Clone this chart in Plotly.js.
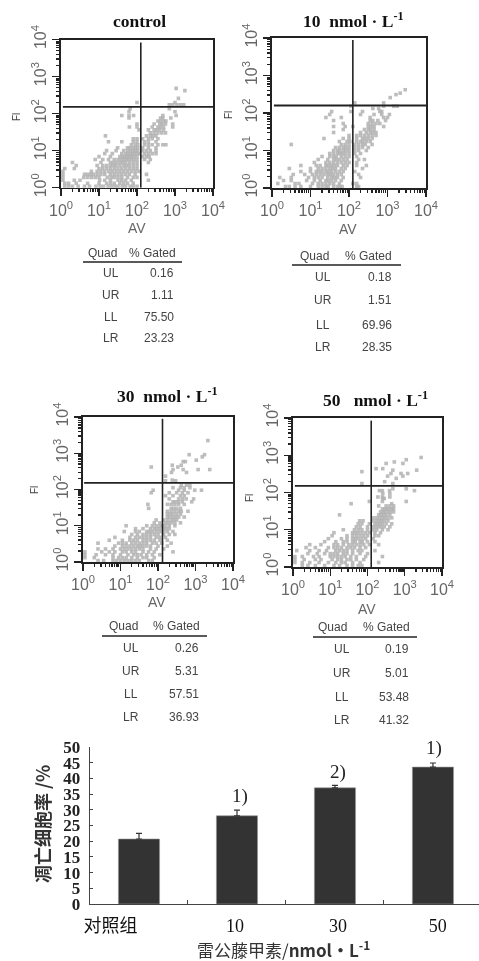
<!DOCTYPE html>
<html><head><meta charset="utf-8">
<script src="https://cdn.plot.ly/plotly-3.0.1.min.js"></script>
<style>html,body{margin:0;padding:0;background:#fff}#chart{width:479px;height:961px;filter:blur(0.4px)}</style>
</head><body><div id="chart"></div>
<script>
// Flow cytometry events, in decades. Each row: [Fl decade, AV decade, AV decade, ...]
const controlRows = [
[0.04,0.1,0.2,0.3,0.45,0.62,0.75,0.92,1.03,1.12,1.24,1.33,1.42,1.5,1.61,1.7,1.82,1.9,2.0],
[0.12,0.1,0.2,0.4,0.7,1.0,1.2,1.3,1.4,1.55,1.65,1.75,1.9],
[0.2,0.05,0.35,0.5,1.02,1.15,1.3,1.5,1.6,1.7,1.85,2.3],
[0.28,0.05,0.6,0.7,0.8,0.9,1.0,1.22,1.32,1.4,1.5,1.6,1.75,1.9,2.0],
[0.36,0.05,0.62,0.7,0.78,0.85,0.95,1.05,1.15,1.3,1.4,1.5,1.6,1.7,1.8,1.95,2.25],
[0.44,0.05,0.8,0.95,1.05,1.15,1.26,1.35,1.45,1.55,1.65,1.75,1.85,1.95,2.05],
[0.52,0.1,0.35,1.0,1.1,1.2,1.3,1.4,1.5,1.6,1.7,1.8,1.9,2.0],
[0.6,0.4,0.95,1.1,1.2,1.3,1.38,1.45,1.55,1.65,1.72,1.8,1.9,2.0],
[0.68,0.3,1.05,1.3,1.38,1.46,1.55,1.62,1.7,1.8,1.9,2.0,2.3],
[0.76,0.9,1.1,1.25,1.4,1.5,1.58,1.65,1.72,1.78,1.85,1.92,2.0,2.2,2.35],
[0.84,1.0,1.3,1.55,1.62,1.68,1.74,1.8,1.86,1.92,2.0,2.15,2.25,2.32],
[0.92,1.15,1.35,1.6,1.7,1.76,1.82,1.88,1.94,2.0,2.06,2.2,2.3,2.4,2.5],
[1.0,1.2,1.45,1.65,1.75,1.83,1.9,1.96,2.02,2.15,2.25,2.35,2.5],
[1.08,1.49,1.75,1.82,1.9,1.96,2.02,2.15,2.3,2.5],
[1.16,1.85,1.95,2.02,2.2,2.3,2.4,2.55,2.68,2.76],
[1.24,1.25,1.6,1.9,2.0,2.2,2.3,2.5],
[1.32,1.9,2.0,2.15,2.3,2.4,2.55],
[1.4,1.17,2.25,2.35,2.42,2.5],
[1.48,2.35,2.45,2.55,2.65,2.75],
[1.56,2.05,2.3,2.45,2.52,2.6,2.7],
[1.64,1.8,2.0,2.4,2.55,2.62,2.7,2.94],
[1.72,2.0,2.45,2.6,2.66,2.75,2.94],
[1.8,2.55,2.62,2.7,2.76],
[1.88,1.79,2.62,2.68,2.89],
[1.95,1.6,1.79,1.91,2.68,3.03],
[2.05,1.79,3.0],
[2.13,1.82,2.85],
[2.24,2.85,2.94,3.05,3.14,3.23],
[2.3,2.0,3.0],
[2.41,3.09],
[2.62,3.26],
[2.68,3.03]];
const tenNmolRows = [
[0.04,0.35,0.45,0.6,0.75,1.0,1.2,1.3,1.4,1.46,1.6,1.7,1.76,1.82,2.2,2.25],
[0.12,0.15,0.6,0.7,1.05,1.2,1.3,1.4,1.5,1.6,1.75,2.1,2.2],
[0.2,0.3,0.5,0.9,1.1,1.25,1.4,1.46,1.55,1.65,1.8],
[0.28,0.2,0.5,0.95,1.1,1.2,1.3,1.45,1.55,1.62,1.7,1.85,2.3],
[0.36,0.55,0.85,1.05,1.15,1.25,1.35,1.45,1.52,1.6,1.7,1.8,2.25],
[0.44,0.75,1.0,1.15,1.22,1.3,1.4,1.47,1.55,1.65,1.75,1.85,2.15],
[0.52,0.45,1.0,1.2,1.3,1.4,1.5,1.57,1.65,1.8,1.9,2.35],
[0.6,0.75,1.15,1.25,1.4,1.47,1.55,1.62,1.7,1.85,1.95,2.2,2.45],
[0.68,1.1,1.4,1.5,1.6,1.7,1.8,1.9,2.0,2.2],
[0.76,1.2,1.45,1.6,1.67,1.75,1.85,1.95,2.25,2.4],
[0.84,1.3,1.5,1.6,1.67,1.8,1.9,2.0,2.2],
[0.92,1.5,1.6,1.7,1.76,1.82,1.9,2.0,2.15,2.3],
[1.0,1.6,1.7,1.76,1.85,1.92,2.0,2.15,2.25,2.45],
[1.08,1.65,1.75,1.85,1.92,2.0,2.15,2.25,2.35,2.5],
[1.16,0.5,1.8,1.9,2.0,2.15,2.25,2.35,2.42,2.6],
[1.24,1.75,1.95,2.02,2.2,2.3,2.36,2.45,2.55],
[1.32,1.35,1.85,2.0,2.2,2.35,2.42,2.5,2.6],
[1.4,2.0,2.2,2.3,2.4,2.5,2.6,2.7],
[1.48,1.6,2.3,2.45,2.55,2.62,2.7],
[1.56,1.85,2.4,2.5,2.56,2.65],
[1.64,1.6,1.9,2.1,2.5,2.57,2.65,2.9],
[1.72,1.85,2.5,2.6,2.7,2.8],
[1.8,1.6,2.55,2.62,2.75,2.95],
[1.88,1.4,1.8,2.55,2.9,3.0],
[1.96,1.5,2.3,2.65,2.85,3.05],
[2.04,1.55,2.05,2.35,2.8,2.85],
[2.12,2.77,2.62],
[2.18,2.05,2.9,3.16,3.25],
[2.27,2.15,2.9],
[2.41,3.07],
[2.49,3.22],
[2.53,3.33],
[2.62,3.46]];
const thirtyNmolRows = [
[0.04,0.4,0.55,0.8,0.9,1.0,1.1,1.2,1.3,1.4,1.5,1.75,1.85],
[0.12,0.05,0.3,0.8,0.95,1.05,1.15,1.3,1.45,1.6,1.7,1.9],
[0.2,0.05,0.35,0.6,0.8,1.0,1.2,1.35,1.45,1.55,1.7,1.85,2.05],
[0.28,0.05,0.5,0.7,0.85,1.05,1.15,1.3,1.4,1.6,1.75,1.9,2.4],
[0.36,0.4,0.6,0.8,1.0,1.1,1.2,1.3,1.4,1.5,1.6,1.8,1.95,2.15],
[0.44,0.85,1.05,1.15,1.25,1.35,1.45,1.52,1.6,1.7,1.8,2.0,2.25],
[0.52,0.4,0.95,1.05,1.15,1.3,1.4,1.5,1.6,1.7,1.85,1.95,2.1,2.35],
[0.6,0.7,1.05,1.25,1.35,1.45,1.6,1.7,1.8,1.9,2.05,2.25],
[0.68,0.85,1.25,1.4,1.5,1.6,1.7,1.8,1.95,2.05,2.2],
[0.76,1.3,1.45,1.6,1.7,1.8,1.9,2.0,2.15,2.3,2.45],
[0.84,1.1,1.4,1.5,1.7,1.77,1.85,1.95,2.05,2.15,2.25,2.4],
[0.92,1.4,1.6,1.8,1.9,1.97,2.05,2.15,2.22,2.3],
[1.0,1.15,1.7,1.85,1.95,2.05,2.12,2.2,2.3,2.45],
[1.08,1.9,2.05,2.2,2.27,2.35,2.45,2.6],
[1.16,1.95,2.15,2.25,2.35,2.42,2.5],
[1.24,2.25,2.32,2.4,2.47,2.55,2.7],
[1.32,2.25,2.32,2.4,2.5,2.6],
[1.4,2.25,2.35,2.45,2.55,2.62,2.8],
[1.48,1.75,2.35,2.42,2.5,2.6],
[1.59,1.73,2.25,2.35,2.45,2.55,2.7],
[1.66,2.4,2.47,2.55,2.65,2.9],
[1.74,2.3,2.55,2.65,2.75,2.95],
[1.83,2.2,2.4,2.6,2.7],
[1.91,1.82,2.3,2.5,2.65,2.8],
[1.98,1.87,2.55,2.7,2.98,3.16],
[2.05,2.4,2.6,2.7,2.85],
[2.12,2.62,2.76,2.85],
[2.24,2.47,2.2],
[2.26,2.38],
[2.37,2.2],
[2.47,2.36,2.76],
[2.55,2.4,2.67,3.07,3.38],
[2.62,1.82,2.53],
[2.67,2.38,2.62],
[2.77,2.67,2.73],
[2.81,3.02],
[2.9,3.18],
[2.96,2.83,3.24],
[3.35,3.33]];
const fiftyNmolRows = [
[0.04,0.25,0.4,0.6,0.85,1.1,1.25,1.45,1.6,1.75,1.85],
[0.12,0.05,0.25,0.45,0.7,0.95,1.15,1.3,1.4,1.6,1.8,2.3],
[0.2,0.05,0.3,0.6,0.75,1.05,1.2,1.3,1.45,1.55,1.7,1.9],
[0.28,0.05,0.25,0.55,0.7,1.0,1.1,1.2,1.3,1.4,1.55,1.7,1.95,2.4],
[0.36,0.4,0.65,0.85,1.0,1.1,1.2,1.35,1.45,1.6,1.8,2.0],
[0.44,0.1,0.45,0.7,0.9,1.15,1.25,1.35,1.45,1.6,1.75,1.85,2.2],
[0.52,0.35,0.6,0.95,1.1,1.2,1.3,1.45,1.55,1.65,1.8,1.95],
[0.6,0.45,0.75,1.1,1.2,1.35,1.5,1.6,1.7,1.8,1.9,2.05,2.3],
[0.68,0.85,1.15,1.35,1.45,1.6,1.67,1.8,1.86,2.0,2.2],
[0.76,0.95,1.3,1.45,1.6,1.67,1.75,1.85,1.95,2.15],
[0.84,1.05,1.45,1.6,1.7,1.8,1.9,2.0,2.2,2.3],
[0.92,1.1,1.6,1.67,1.75,1.85,1.95,2.05,2.2,2.35],
[1.0,1.35,1.65,1.75,1.85,2.0,2.15,2.25,2.4,2.55],
[1.08,1.7,1.8,2.0,2.15,2.22,2.3,2.37,2.45,2.6],
[1.16,1.75,1.85,2.05,2.2,2.27,2.33,2.4,2.5,2.65],
[1.24,1.79,1.88,2.15,2.25,2.32,2.38,2.45,2.55],
[1.32,2.15,2.25,2.32,2.4,2.47,2.55,2.65],
[1.4,1.25,2.3,2.37,2.43,2.5,2.6],
[1.48,2.35,2.42,2.47,2.55,2.62,2.7],
[1.56,2.4,2.47,2.52,2.58,2.65,2.7],
[1.64,2.3,2.5,2.6,2.7],
[1.7,1.56,2.65],
[1.76,2.05,2.4,3.04],
[1.84,2.41,2.45],
[1.88,2.28,2.4,2.6],
[1.97,2.41,2.6],
[2.05,2.32,2.4,2.59,3.26],
[2.1,2.68,3.04],
[2.24,1.85,2.68],
[2.29,2.46],
[2.38,2.77],
[2.44,2.54,2.95],
[2.51,2.63,2.9,3.08],
[2.56,1.85],
[2.6,2.68,3.32],
[2.64,2.23,2.41],
[2.78,2.5,2.95],
[2.82,2.72],
[2.88,3.04],
[2.94,3.44]];

const panelTitles = ['control','10&#160;&#160;nmol&#160;·&#160;L<sup>-1</sup>','30&#160;&#160;nmol&#160;·&#160;L<sup>-1</sup>','50&#160;&#160;&#160;nmol&#160;·&#160;L<sup>-1</sup>'];
const quadNames = ['UL','UR','LL','LR'];
const controlGated = ['0.16','1.11','75.50','23.23'];
const tenGated = ['0.18','1.51','69.96','28.35'];
const thirtyGated = ['0.26','5.31','57.51','36.93'];
const fiftyGated = ['0.19','5.01','53.48','41.32'];
const decadeTicks = [1,10,100,1000,10000];
const decadeLabels = ['10<sup>0</sup>','10<sup>1</sup>','10<sup>2</sup>','10<sup>3</sup>','10<sup>4</sup>'];
const minorTicks = [2,3,4,5,6,7,8,9,20,30,40,50,60,70,80,90,200,300,400,500,600,700,800,900,2000,3000,4000,5000,6000,7000,8000,9000];

const groups = ['对照组','10','30','50'];
const apoptosisRate = [20.7,28.1,37.0,43.6];
const apoptosisError = [1.8,1.8,0.8,1.3];
const significance = ['','1)','2)','1)'];
const rateTicks = [0,5,10,15,20,25,30,35,40,45,50];

const W=479,H=961;
const px=v=>v/W, py=v=>1-v/H;
const panels=[
 {rows:controlRows,gated:controlGated,box:[61,213,39.5,187.7],qx:[2.1,0.05,3.92,2.18],
  titleAt:[139,21],flAt:[16,117],avAt:[137,228],
  table:{hy:253,qc:102,gc:152,ly:262,lx:[83,182],rx:111,ry:[273,295,317,338],vr:175}},
 {rows:tenNmolRows,gated:tenGated,box:[272,426,38,188],qx:[2.1,0.05,3.95,2.2],
  titleAt:[353,20],flAt:[228,115],avAt:[348,229],
  table:{hy:256,qc:314,gc:368,ly:265,lx:[292,401],rx:323,ry:[277,300,325,347],vr:393}},
 {rows:thirtyNmolRows,gated:thirtyGated,box:[83,233,417,562],qx:[2.12,0.03,3.95,2.18],
  titleAt:[167,395],flAt:[34,490],avAt:[157,602],
  table:{hy:626,qc:123,gc:176,ly:636,lx:[102,207],rx:131,ry:[648,671,694,717],vr:200}},
 {rows:fiftyNmolRows,gated:fiftyGated,box:[293,442,418,567],qx:[2.1,0.05,3.93,2.18],
  titleAt:[375,399],flAt:[250,498],avAt:[367,609],
  table:{hy:627,qc:332,gc:386,ly:637,lx:[313,417],rx:342,ry:[649,673,697,720],vr:410}}
];

const traces=[],annotations=[],shapes=[];
const layout={width:W,height:H,margin:{l:0,r:0,t:0,b:0},paper_bgcolor:'#fff',plot_bgcolor:'#fff',showlegend:false,bargap:0};
const sans='Liberation Sans, Arial, sans-serif',serif='Liberation Serif, Times New Roman, serif';
const textAt=(x,y,text,font,extra)=>annotations.push(Object.assign({xref:'paper',yref:'paper',x:px(x),y:py(y),text,showarrow:false,font,xanchor:'center',yanchor:'middle',borderpad:0},extra||{}));

panels.forEach((p,i)=>{
  const n=i+1, ax=n===1?'':n, xk='xaxis'+ax, yk='yaxis'+ax;
  const xs=[],ys=[];
  p.rows.forEach(r=>r.slice(1).forEach(d=>{xs.push(Math.pow(10,d));ys.push(Math.pow(10,r[0]));}));
  traces.push({type:'scatter',mode:'markers',x:xs,y:ys,xaxis:'x'+ax,yaxis:'y'+ax,
    marker:{symbol:'square',size:3.6,color:'#b2b2b2',opacity:0.85,line:{width:0}},cliponaxis:true,hoverinfo:'skip'});
  const [qv,qs,qt,qh]=p.qx;
  traces.push({type:'scatter',mode:'lines',x:[Math.pow(10,qv),Math.pow(10,qv)],y:[1,Math.pow(10,qt)],xaxis:'x'+ax,yaxis:'y'+ax,line:{color:'#222',width:1.6},hoverinfo:'skip'});
  traces.push({type:'scatter',mode:'lines',x:[Math.pow(10,qs),10000],y:[Math.pow(10,qh),Math.pow(10,qh)],xaxis:'x'+ax,yaxis:'y'+ax,line:{color:'#222',width:1.8},hoverinfo:'skip'});
  const common={type:'log',range:[0,4],tickmode:'array',tickvals:decadeTicks,ticktext:decadeLabels,ticks:'outside',ticklen:7,tickwidth:1.2,tickcolor:'#222',
    showgrid:false,zeroline:false,showline:true,mirror:true,linecolor:'#222',linewidth:1.6,
    tickfont:{family:sans,size:16,color:'#666'},
    minor:{tickmode:'array',tickvals:minorTicks,ticks:'outside',ticklen:3,tickwidth:1.4,tickcolor:'#222',showgrid:false}};
  layout[xk]=Object.assign({},common,{domain:[px(p.box[0]),px(p.box[1])],anchor:'y'+ax,tickangle:0});
  layout[yk]=Object.assign({},common,{domain:[py(p.box[3]),py(p.box[2])],anchor:'x'+ax,tickangle:-90});
  textAt(p.titleAt[0],p.titleAt[1],'<b>'+panelTitles[i]+'</b>',{family:serif,size:17.5,color:'#111'});
  textAt(p.flAt[0],p.flAt[1],'Fl',{family:sans,size:10,color:'#444'},{textangle:-90});
  textAt(p.avAt[0],p.avAt[1],'AV',{family:sans,size:14,color:'#666'});
  const t=p.table,tf={family:sans,size:12,color:'#444'};
  textAt(t.qc,t.hy,'Quad',tf);textAt(t.gc,t.hy,'% Gated',tf);
  shapes.push({type:'line',xref:'paper',yref:'paper',x0:px(t.lx[0]),x1:px(t.lx[1]),y0:py(t.ly),y1:py(t.ly),line:{color:'#222',width:1.4}});
  quadNames.forEach((q,k)=>{
    textAt(t.rx,t.ry[k],q,tf);
    textAt(t.vr,t.ry[k],p.gated[k],tf,{xanchor:'right'});
  });
});

// Bar chart
traces.push({type:'bar',x:[0,1,2,3],y:apoptosisRate,xaxis:'x5',yaxis:'y5',width:0.42,
  marker:{color:'#333',line:{color:'#999',width:0.6}},
  error_y:{type:'data',array:apoptosisError,symmetric:false,arrayminus:[0,0,0,0],color:'#333',thickness:1.2,width:3},
  hoverinfo:'skip'});
layout.xaxis5={domain:[px(90),1],anchor:'y5',range:[-0.5,3.47],tickmode:'array',tickvals:[-0.29,0.98,2.03,3.05],ticktext:groups,ticks:'',ticklen:0,
  ticklabelstandoff:5,tickfont:{family:'Liberation Serif, "Noto Sans CJK SC", serif',size:18,color:'#111'},
  showgrid:false,zeroline:false,showline:true,linecolor:'#444',linewidth:1.4,
  minor:{tickmode:'array',tickvals:[0.5,1.5,2.5],ticks:'inside',ticklen:4,tickwidth:1,tickcolor:'#444',showgrid:false}};
layout.yaxis5={domain:[py(904),py(747)],anchor:'x5',range:[0,50],tickmode:'array',tickvals:rateTicks,ticks:'inside',ticklen:3,tickwidth:1,tickcolor:'#444',
  ticklabelstandoff:5,tickfont:{family:serif,size:17,color:'#222',weight:'bold'},showgrid:false,zeroline:false,showline:true,linecolor:'#444',linewidth:1.4};
[1,2,3].forEach(k=>annotations.push({xref:'x5',yref:'paper',x:k+[0,0.03,0.03,0.01][k],y:py([0,796,772,748][k]),yanchor:'middle',text:significance[k],showarrow:false,font:{family:serif,size:19,color:'#222'}}));
textAt(42,824,'凋亡细胞率 /%',{family:'"Noto Sans CJK SC"',size:18,color:'#333',weight:'bold'},{textangle:-90});
textAt(283,949,'雷公藤甲素/<b>nmol·L<sup>-1</sup></b>',{family:'"Noto Sans CJK SC", Liberation Serif',size:17,color:'#333'});

layout.annotations=annotations;layout.shapes=shapes;
Plotly.newPlot('chart',traces,layout,{displayModeBar:false,staticPlot:true});
</script></body></html>
